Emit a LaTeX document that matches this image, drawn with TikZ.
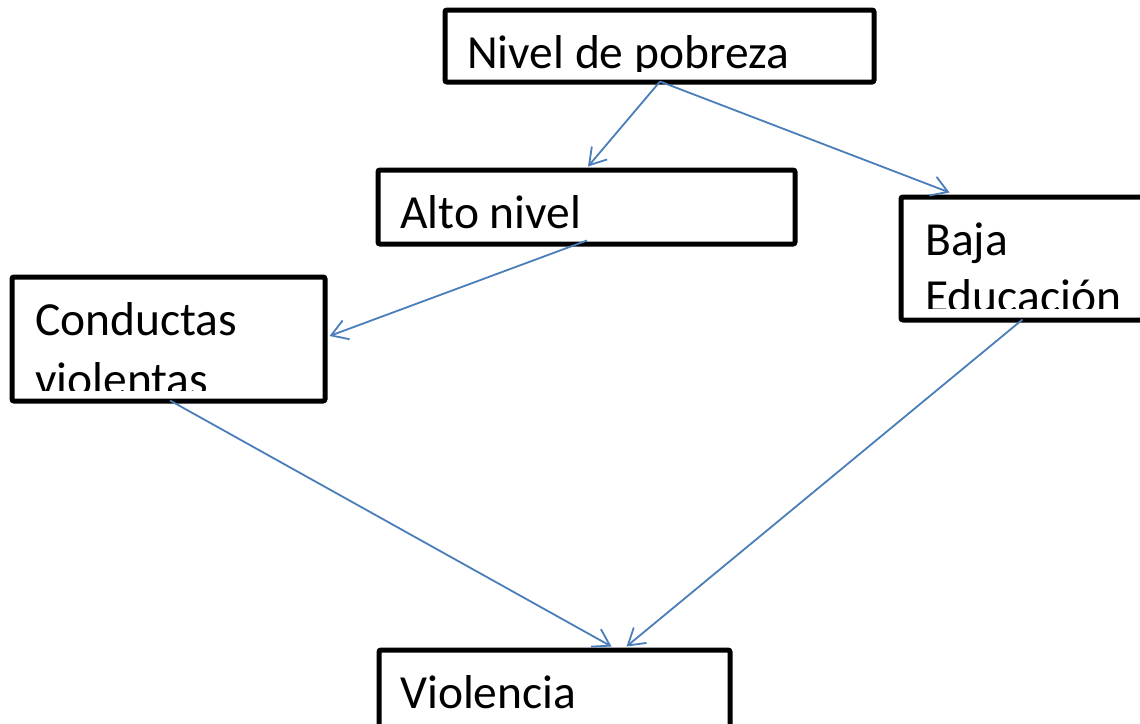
\documentclass[tikz,border=0pt]{standalone}
\usepackage{fontspec}
\setmainfont{Carlito}
\usetikzlibrary{arrows.meta,calc}
\definecolor{conn}{RGB}{74,126,187}
\begin{document}
\begin{tikzpicture}[x=1pt,y=-1pt,
  boxnode/.style n args={2}{draw=black,line width=5pt,rounded corners=2pt,inner sep=0pt,
    minimum width=#1,minimum height=#2},
  label text/.style={anchor=base west,inner sep=0pt,font=\fontsize{47.5}{57}\selectfont},
  link/.style={draw=conn,line width=1.8pt,-{Straight Barb[length=16pt,width=20pt]}}]
\useasboundingbox (0,0) rectangle (1140,723);
\fill[white] (0,0) rectangle (1140,723);

% boxes
\node[boxnode={429pt}{72pt}] (nivel) at (659.5,46) {};
\node[boxnode={417pt}{74pt}] (alto) at (586.5,207) {};
\node[boxnode={259pt}{123pt}] (baja) at (1030.5,258.5) {};
\node[boxnode={313pt}{124pt}] (conductas) at (168.5,339) {};
\node[boxnode={351pt}{110pt}] (violencia) at (554.5,705) {};

% texts (clipped at the bottom like the original text boxes)
\begin{scope}
  \clip (447,12) rectangle (872,71);
  \node[label text] (tnivel) at (467,68) {Nivel de pobreza};
\end{scope}
\begin{scope}
  \clip (380,172) rectangle (793,241);
  \node[label text] (talto) at (400,228) {Alto nivel};
\end{scope}
\begin{scope}
  \clip (904,200) rectangle (1140,308);
  \node[label text] (tbaja1) at (925,255) {Baja};
  \node[label text] (tbaja2) at (925,312) {Educación};
\end{scope}
\begin{scope}
  \clip (15,280) rectangle (322,390);
  \node[label text] (tcond1) at (35,335) {Conductas};
  \node[label text] (tcond2) at (35,395) {violentas};
\end{scope}
\begin{scope}
  \clip (382,653) rectangle (727,723);
  \node[label text] (tviol) at (400,708) {Violencia};
\end{scope}

% connectors
\draw[link] ($(nivel.south)+(0.5,-3)$) -- ($(alto.north)+(1.5,-1)$);
\draw[link] ($(nivel.south)+(0.5,-3)$) -- ($(baja.north west)+(51,-2)$);
\draw[link] ($(alto.south)+(0.5,-6)$) -- ($(conductas.east)+(2,-3)$);
\draw[link] ($(baja.south west)+(124,-3)$) -- ($(violencia.north)+(72,-1)$);
\draw[link] ($(conductas.south)+(1.5,-3)$) -- ($(violencia.north)+(57,-1)$);
\end{tikzpicture}
\end{document}
